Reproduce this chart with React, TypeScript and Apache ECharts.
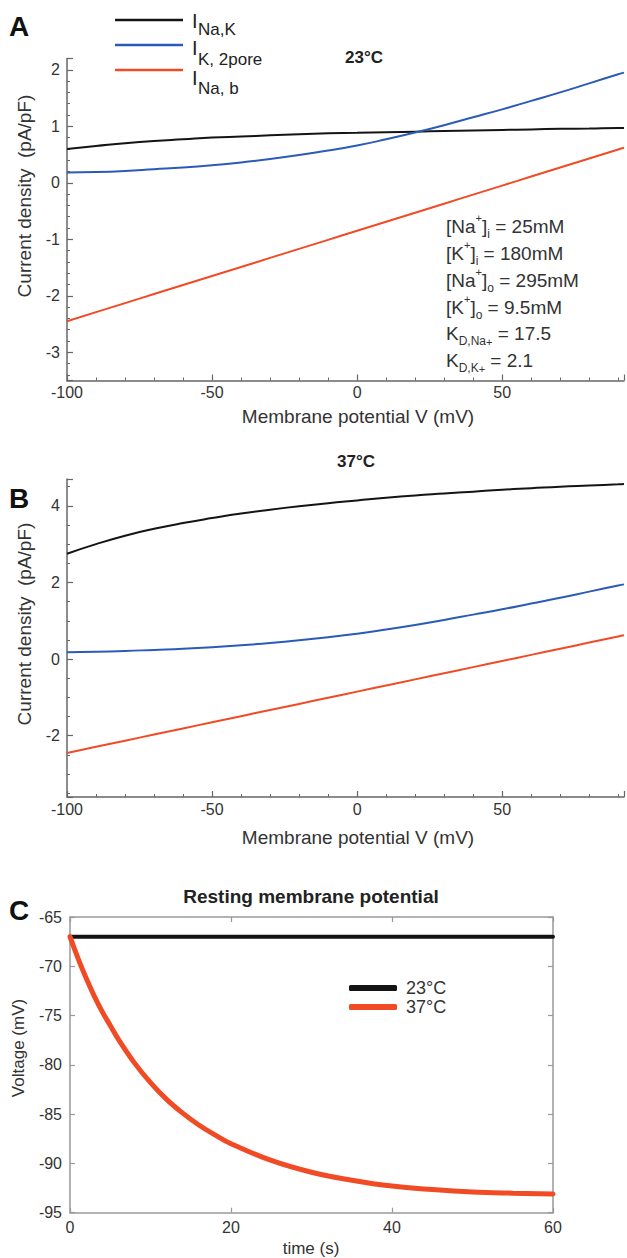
import React, { useEffect, useRef } from "react";
import * as echarts from "echarts";

const FONT = "'Liberation Sans', Arial, Helvetica, sans-serif";

// Panel A / B: membrane potential (mV)
const voltage = [-100, -90, -80, -70, -60, -50, -40, -30, -20, -10, 0, 10, 20, 30, 40, 50, 60, 70, 80, 90, 92];
const iNaK23 = [0.6, 0.65, 0.7, 0.74, 0.77, 0.8, 0.82, 0.84, 0.86, 0.875, 0.885, 0.895, 0.905, 0.915, 0.925, 0.935, 0.945, 0.955, 0.96, 0.97, 0.97];
const iK2pore = [0.18, 0.19, 0.21, 0.24, 0.27, 0.31, 0.36, 0.42, 0.49, 0.57, 0.66, 0.77, 0.89, 1.02, 1.16, 1.3, 1.45, 1.6, 1.76, 1.92, 1.95];
const iNab = [-2.45, -2.29, -2.13, -1.97, -1.81, -1.65, -1.49, -1.33, -1.17, -1.01, -0.85, -0.69, -0.53, -0.37, -0.21, -0.05, 0.11, 0.27, 0.43, 0.59, 0.62];
const iNaK37 = [2.75, 3.0, 3.22, 3.4, 3.55, 3.68, 3.8, 3.9, 3.99, 4.07, 4.14, 4.21, 4.27, 4.32, 4.37, 4.42, 4.46, 4.5, 4.53, 4.56, 4.57];

// Panel C: resting membrane potential over time
const timeS = [0, 1, 2, 3, 4, 5, 6, 8, 10, 12, 14, 16, 18, 20, 25, 30, 35, 40, 45, 50, 55, 60];
const vrest37 = [-67, -69.2, -71.2, -73, -74.6, -76, -77.4, -79.8, -81.8, -83.5, -84.9, -86.1, -87.1, -88, -89.7, -90.9, -91.7, -92.3, -92.65, -92.9, -93.02, -93.1];
const vrest23Time = [0, 60];
const vrest23 = [-67, -67];

const seriesNamesAB = ["I_Na,K", "I_K,2pore", "I_Na,b"];
const legendSubs = ["Na,K", "K, 2pore", "Na, b"];
const annotations = [
  "{n|[Na}{sup|+}{n|]}{sub|i}{n| = 25mM}",
  "{n|[K}{sup|+}{n|]}{sub|i}{n| = 180mM}",
  "{n|[Na}{sup|+}{n|]}{sub|o}{n| = 295mM}",
  "{n|[K}{sup|+}{n|]}{sub|o}{n| = 9.5mM}",
  "{n|K}{sub|D,Na}{ssup|+}{n| = 17.5}",
  "{n|K}{sub|D,K}{ssup|+}{n| = 2.1}",
];

const BLACK = "#141414";
const BLUE = "#2a5bb8";
const RED = "#f04b25";
const AXIS = "#666";
const LABEL = "#333";

const zip = (xs: number[], ys: number[]) => xs.map((x, i) => [x, ys[i]]);

export default function App() {
  const ref = useRef<HTMLDivElement>(null);
  useEffect(() => {
    if (!ref.current) return;
    const chart = echarts.init(ref.current, undefined, { renderer: "svg" });

    const abXAxis = (gridIndex: number) => ({
      type: "value",
      gridIndex,
      min: -100,
      max: 92,
      interval: 50,
      axisLine: { show: true, onZero: false, lineStyle: { color: AXIS, width: 1.5 } },
      axisTick: { show: true, inside: true, length: 6, lineStyle: { color: AXIS, width: 1.2 } },
      minorTick: { show: true, splitNumber: 5, length: 3, lineStyle: { color: AXIS, width: 1 } },
      splitLine: { show: false },
      axisLabel: {
        margin: 4,
        fontSize: 16,
        color: LABEL,
        fontFamily: FONT,
        formatter: (v: number) => (v % 50 === 0 ? String(v) : ""),
      },
    });
    const abYAxis = (gridIndex: number, min: number, max: number, minorSplit: number) => ({
      type: "value",
      gridIndex,
      min,
      max,
      axisLine: { show: true, onZero: false, lineStyle: { color: AXIS, width: 1.5 } },
      axisTick: { show: true, inside: true, length: 6, lineStyle: { color: AXIS, width: 1.2 } },
      minorTick: { show: true, splitNumber: minorSplit, length: 3, lineStyle: { color: AXIS, width: 1 } },
      splitLine: { show: false },
      axisLabel: {
        margin: 7,
        fontSize: 16,
        color: LABEL,
        fontFamily: FONT,
        formatter: (v: number) => (Number.isInteger(v) ? String(v) : ""),
      },
    });
    const cAxisCommon = {
      axisLine: { show: true, onZero: false, lineStyle: { color: "#999", width: 1.5 } },
      axisTick: { show: true, inside: true, length: 5, lineStyle: { color: "#999", width: 1.2 } },
      splitLine: { show: false },
    };

    const lineSeries = (name: string, xi: number, yi: number, ys: number[], color: string) => ({
      name,
      type: "line",
      xAxisIndex: xi,
      yAxisIndex: yi,
      data: zip(voltage, ys),
      smooth: true,
      showSymbol: false,
      lineStyle: { color, width: 2 },
      itemStyle: { color },
    });

    const graphics: any[] = [];
    // panel letters
    graphics.push(
      { type: "text", left: 9, top: 12, style: { text: "A", font: `bold 28px ${FONT}`, fill: "#111" } },
      { type: "text", left: 9, top: 484, style: { text: "B", font: `bold 28px ${FONT}`, fill: "#111" } },
      { type: "text", left: 9, top: 896, style: { text: "C", font: `bold 28px ${FONT}`, fill: "#111" } }
    );
    // legend for A
    const legColors = [BLACK, BLUE, RED];
    const lineY = [20, 45, 70];
    const iY = [21, 48, 78];
    const subY = [29, 59, 88];
    legColors.forEach((c, i) => {
      graphics.push({ type: "line", shape: { x1: 115, y1: lineY[i], x2: 183, y2: lineY[i] }, style: { stroke: c, lineWidth: 2.5 } });
      graphics.push({ type: "text", x: 192, y: iY[i], style: { text: "I", font: `20px ${FONT}`, fill: "#222", verticalAlign: "middle" } });
      graphics.push({ type: "text", x: 198, y: subY[i], style: { text: legendSubs[i], font: `17px ${FONT}`, fill: "#222", verticalAlign: "middle" } });
    });
    // titles
    graphics.push(
      { type: "text", x: 364, y: 57, style: { text: "23°C", font: `bold 17px ${FONT}`, fill: "#222", align: "center", verticalAlign: "middle" } },
      { type: "text", x: 356, y: 461, style: { text: "37°C", font: `bold 17px ${FONT}`, fill: "#222", align: "center", verticalAlign: "middle" } },
      { type: "text", x: 311, y: 896, style: { text: "Resting membrane potential", font: `bold 19px ${FONT}`, fill: "#222", align: "center", verticalAlign: "middle" } }
    );
    // axis titles
    const yTitle = (x: number, y: number, text: string, size: number) => ({
      type: "text",
      x,
      y,
      rotation: Math.PI / 2,
      style: { text, font: `${size}px ${FONT}`, fill: "#333", align: "center", verticalAlign: "middle" },
    });
    const xTitle = (x: number, y: number, text: string, size: number) => ({
      type: "text",
      x,
      y,
      style: { text, font: `${size}px ${FONT}`, fill: "#333", align: "center", verticalAlign: "middle" },
    });
    graphics.push(
      yTitle(24, 196, "Current density  (pA/pF)", 19),
      yTitle(24, 624, "Current density  (pA/pF)", 19),
      yTitle(18, 1048, "Voltage (mV)", 17),
      xTitle(358, 416, "Membrane potential V (mV)", 19),
      xTitle(358, 837, "Membrane potential V (mV)", 19),
      xTitle(311, 1248, "time (s)", 17)
    );
    // annotation
    const annY = [226, 253, 280, 307, 333, 360];
    annotations.forEach((t, i) => {
      graphics.push({
        type: "text",
        x: 446,
        y: annY[i],
        style: {
          text: t,
          verticalAlign: "middle",
          rich: {
            n: { fontSize: 19, fontFamily: FONT, fill: "#333", lineHeight: 28 },
            sup: { fontSize: 11, fontFamily: FONT, fill: "#333", lineHeight: 16, verticalAlign: "top" },
            sub: { fontSize: 12, fontFamily: FONT, fill: "#333", lineHeight: 13, verticalAlign: "bottom" },
            ssup: { fontSize: 11, fontFamily: FONT, fill: "#333", lineHeight: 22, verticalAlign: "bottom" },
          },
        },
      });
    });

    chart.setOption({
      animation: false,
      backgroundColor: "#fff",
      textStyle: { fontFamily: FONT },
      grid: [
        { left: 67, top: 58.5, width: 560, height: 322 },
        { left: 67, top: 479, width: 560, height: 318 },
        { left: 70, top: 917, width: 483, height: 295.7 },
      ],
      xAxis: [
        abXAxis(0),
        abXAxis(1),
        {
          type: "value",
          gridIndex: 2,
          min: 0,
          max: 60,
          interval: 20,
          ...cAxisCommon,
          axisLabel: { margin: 7, fontSize: 16, color: LABEL, fontFamily: FONT },
        },
        {
          type: "value",
          gridIndex: 2,
          position: "top",
          min: 0,
          max: 60,
          interval: 20,
          ...cAxisCommon,
          axisLabel: { show: false },
        },
      ],
      yAxis: [
        abYAxis(0, -3.5, 2.2, 5),
        abYAxis(1, -3.6, 4.7, 4),
        {
          type: "value",
          gridIndex: 2,
          min: -95,
          max: -65,
          interval: 5,
          ...cAxisCommon,
          axisLabel: { margin: 8, fontSize: 16, color: LABEL, fontFamily: FONT },
        },
        {
          type: "value",
          gridIndex: 2,
          position: "right",
          min: -95,
          max: -65,
          interval: 5,
          ...cAxisCommon,
          axisLabel: { show: false },
        },
      ],
      legend: {
        orient: "vertical",
        left: 344,
        top: 974,
        itemWidth: 48,
        itemHeight: 6,
        itemGap: 1,
        icon: "roundRect",
        data: ["23°C", "37°C"],
        textStyle: { fontSize: 18, color: "#333", fontFamily: FONT, lineHeight: 18, padding: [0, 0, 0, 4] },
      },
      series: [
        lineSeries(seriesNamesAB[0] + " 23", 0, 0, iNaK23, BLACK),
        lineSeries(seriesNamesAB[1] + " 23", 0, 0, iK2pore, BLUE),
        lineSeries(seriesNamesAB[2] + " 23", 0, 0, iNab, RED),
        lineSeries(seriesNamesAB[0] + " 37", 1, 1, iNaK37, BLACK),
        lineSeries(seriesNamesAB[1] + " 37", 1, 1, iK2pore, BLUE),
        lineSeries(seriesNamesAB[2] + " 37", 1, 1, iNab, RED),
        {
          name: "23°C",
          type: "line",
          xAxisIndex: 2,
          yAxisIndex: 2,
          data: zip(vrest23Time, vrest23),
          showSymbol: false,
          lineStyle: { color: BLACK, width: 4, cap: "round" },
          itemStyle: { color: BLACK },
        },
        {
          name: "37°C",
          type: "line",
          xAxisIndex: 2,
          yAxisIndex: 2,
          data: zip(timeS, vrest37),
          smooth: 0.4,
          showSymbol: false,
          lineStyle: { color: RED, width: 5, cap: "round" },
          itemStyle: { color: RED },
        },
      ],
      graphic: graphics,
    });
    return () => chart.dispose();
  }, []);
  return <div ref={ref} style={{ position: "absolute", left: 0, top: 0, width: 627, height: 1258 }} />;
}
